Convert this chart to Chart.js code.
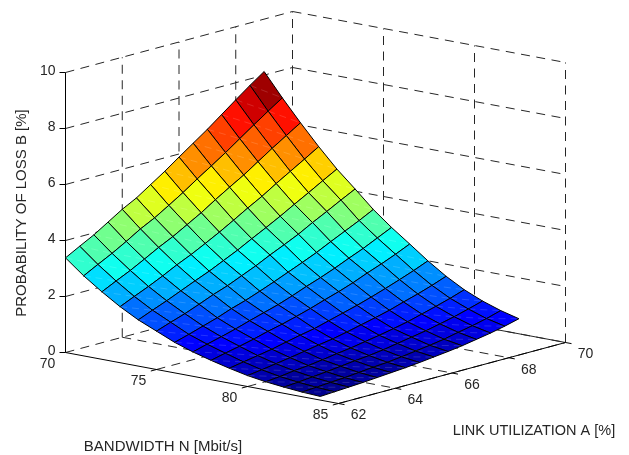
<!DOCTYPE html>
<html>
<head>
<meta charset="utf-8">
<title>Probability of loss</title>
<script src="https://cdn.jsdelivr.net/npm/chart.js@4/dist/chart.umd.js"></script>
<style>
  html, body { margin: 0; background: #fff; }
  canvas { display: block; }
</style>
</head>
<body>
<canvas id="container-chart" width="629" height="455"></canvas>
<script>
// surface values, one list per bandwidth
const bandwidth = [70, 71, 72, 73, 74, 75, 76, 77, 78, 79, 80, 81, 82, 83, 84];
const utilization = [62, 62.5, 63, 63.5, 64, 64.5, 65, 65.5, 66, 66.5, 67, 67.5, 68, 68.5, 69];

const loss70 = [3.38, 3.66, 3.93, 4.25, 4.57, 4.84, 5.18, 5.52, 5.89, 6.25, 6.61, 7.00, 7.39, 7.77, 8.13];
const loss71 = [2.86, 3.13, 3.39, 3.68, 3.99, 4.25, 4.56, 4.88, 5.23, 5.56, 5.90, 6.26, 6.62, 6.97, 7.31];
const loss72 = [2.41, 2.66, 2.90, 3.17, 3.45, 3.70, 3.99, 4.28, 4.61, 4.92, 5.22, 5.56, 5.90, 6.22, 6.54];
const loss73 = [2.00, 2.23, 2.45, 2.69, 2.95, 3.18, 3.44, 3.71, 4.00, 4.30, 4.58, 4.90, 5.20, 5.50, 5.81];
const loss74 = [1.65, 1.86, 2.06, 2.28, 2.50, 2.71, 2.95, 3.19, 3.46, 3.72, 3.99, 4.28, 4.56, 4.85, 5.13];
const loss75 = [1.37, 1.55, 1.72, 1.92, 2.13, 2.31, 2.53, 2.75, 3.00, 3.23, 3.47, 3.75, 4.01, 4.28, 4.54];
const loss76 = [1.09, 1.24, 1.40, 1.56, 1.75, 1.91, 2.10, 2.30, 2.51, 2.72, 2.94, 3.19, 3.43, 3.67, 3.93];
const loss77 = [0.87, 1.01, 1.14, 1.28, 1.44, 1.59, 1.74, 1.92, 2.12, 2.30, 2.50, 2.72, 2.93, 3.17, 3.41];
const loss78 = [0.69, 0.81, 0.92, 1.04, 1.18, 1.30, 1.44, 1.59, 1.76, 1.92, 2.10, 2.31, 2.50, 2.71, 2.94];
const loss79 = [0.53, 0.62, 0.71, 0.80, 0.92, 1.03, 1.13, 1.27, 1.41, 1.55, 1.71, 1.88, 2.06, 2.25, 2.46];
const loss80 = [0.39, 0.46, 0.54, 0.62, 0.71, 0.80, 0.88, 0.99, 1.11, 1.23, 1.36, 1.52, 1.67, 1.84, 2.03];
const loss81 = [0.29, 0.34, 0.41, 0.46, 0.53, 0.61, 0.68, 0.77, 0.86, 0.96, 1.07, 1.21, 1.35, 1.50, 1.67];
const loss82 = [0.22, 0.26, 0.31, 0.36, 0.42, 0.48, 0.53, 0.60, 0.69, 0.78, 0.87, 0.98, 1.10, 1.24, 1.39];
const loss83 = [0.165, 0.20, 0.24, 0.27, 0.32, 0.37, 0.41, 0.47, 0.54, 0.61, 0.69, 0.80, 0.90, 1.02, 1.17];
const loss84 = [0.13, 0.16, 0.19, 0.22, 0.26, 0.30, 0.34, 0.39, 0.45, 0.51, 0.58, 0.67, 0.76, 0.87, 1.00];
const lossRows = [loss70, loss71, loss72, loss73, loss74, loss75, loss76, loss77, loss78, loss79, loss80, loss81, loss82, loss83, loss84];

const bandwidthTicks = [70, 75, 80, 85];
const utilizationTicks = [62, 64, 66, 68, 70];
const lossTicks = [0, 2, 4, 6, 8, 10];

const lossMin = 0.13;
const lossMax = 8.13;

// fixed MATLAB-like view: data (N, A, B) goes to the x/y of the chart
function project(n, a, b) {
  const u = (n - 70) / 15;
  const v = (a - 62) / 8;
  return {
    x: 65.5 + 273 * u + 227 * v,
    y: 352.5 + 51 * u - 61 * v - 28 * b
  };
}

// 64 step jet colormap
function jet(value) {
  const level = Math.min(63, Math.floor((value - lossMin) / (lossMax - lossMin) * 64));
  const t = (level + 1) / 64;
  const ramp = (c) => Math.round(255 * Math.max(0, Math.min(1, 1.5 - Math.abs(4 * t - c))));
  return `rgb(${ramp(3)}, ${ramp(2)}, ${ramp(1)})`;
}

function line(points, color, extra) {
  return Object.assign({
    data: points,
    showLine: true,
    fill: false,
    tension: 0,
    pointRadius: 0,
    borderColor: color,
    borderWidth: 1
  }, extra);
}

const dash = { borderDash: [9, 6.5] };
const gridColor = '#262626';
const surface = [];
const walls = [];

// first dataset is painted last, so the front cells go first
for (let i = bandwidth.length - 2; i >= 0; i--) {
  for (let j = 0; j < utilization.length - 1; j++) {
    const n0 = bandwidth[i], n1 = bandwidth[i + 1];
    const a0 = utilization[j], a1 = utilization[j + 1];
    const left = project(n0, a0, lossRows[i][j]);
    const right = project(n1, a1, lossRows[i + 1][j + 1]);
    // the faint light seam across each facet
    surface.push(line([left, right], 'rgba(255, 255, 255, 0.14)', { borderDash: [7, 5] }));
    surface.push(line([
      left,
      project(n1, a0, lossRows[i + 1][j]),
      right,
      project(n0, a1, lossRows[i][j + 1]),
      left
    ], '#000', {
      fill: 'shape',
      backgroundColor: jet(lossRows[i][j]),
      borderJoinStyle: 'round',
      borderCapStyle: 'round'
    }));
  }
}

// grid on the two walls and the floor
lossTicks.forEach((b) => {
  walls.push(line([project(70, 62, b), project(70, 70, b)], gridColor, dash));
  walls.push(line([project(70, 70, b), project(85, 70, b)], gridColor, b === 0 ? {} : dash));
  walls.push(line([project(70, 62, b), { x: project(70, 62, b).x - 6, y: project(70, 62, b).y }], '#000'));
});
bandwidthTicks.slice(1).forEach((n) => {
  walls.push(line([project(n, 70, 0), project(n, 70, 10)], gridColor, dash));
  walls.push(line([project(n, 62, 0), project(n, 70, 0)], gridColor, dash));
  walls.push(line([project(n, 62, 0), project(n, 61.8, 0)], '#000'));
});
utilizationTicks.slice(1).forEach((a) => {
  walls.push(line([project(70, a, 0), project(70, a, 10)], gridColor, dash));
  walls.push(line([project(70, a, 0), project(85, a, 0)], gridColor, dash));
});
utilizationTicks.forEach((a) => {
  walls.push(line([project(85, a, 0), project(85.33, a, 0)], '#000'));
});

// solid axes
const axes = [
  line([project(70, 62, 0), project(70, 62, 10)], '#000'),
  line([project(70, 62, 0), project(85, 62, 0)], '#000'),
  line([project(85, 62, 0), project(85, 70, 0)], '#000')
];

// tick labels and axis titles, placed from the same projection
const labelsPlugin = {
  id: 'labels3d',
  afterDraw(chart) {
    const { ctx, scales } = chart;
    const place = (p) => ({ x: scales.x.getPixelForValue(p.x), y: scales.y.getPixelForValue(p.y) });
    ctx.save();
    ctx.fillStyle = '#262626';
    ctx.textBaseline = 'middle';
    ctx.font = '14px "Liberation Sans"';
    ctx.textAlign = 'right';
    lossTicks.forEach((b) => {
      const p = place(project(70, 62, b));
      ctx.fillText(String(b), p.x - 10, p.y - 1);
    });
    ctx.textAlign = 'center';
    bandwidthTicks.forEach((n) => {
      const p = place(project(n, 62, 0));
      ctx.fillText(String(n), p.x - 18, p.y + 12);
    });
    utilizationTicks.forEach((a) => {
      const p = place(project(85, a, 0));
      ctx.fillText(String(a), p.x + 20, p.y + 12);
    });
    ctx.font = '15px "Liberation Sans"';
    ctx.fillText('BANDWIDTH N [Mbit/s]', 163, 447);
    ctx.font = '14.5px "Liberation Sans"';
    ctx.fillText('LINK UTILIZATION A [%]', 534, 431);
    ctx.font = '15px "Liberation Sans"';
    ctx.translate(22, 213);
    ctx.rotate(-Math.PI / 2);
    ctx.fillText('PROBABILITY OF LOSS B [%]', 0, 0);
    ctx.restore();
  }
};

const configChart = {
  type: 'scatter',
  data: { datasets: [...surface, ...axes, ...walls] },
  options: {
    responsive: false,
    animation: false,
    events: [],
    layout: { padding: 0 },
    plugins: { legend: { display: false }, tooltip: { enabled: false } },
    scales: {
      x: { type: 'linear', display: false, min: 0, max: 629 },
      y: { type: 'linear', display: false, min: 0, max: 455, reverse: true }
    }
  },
  plugins: [labelsPlugin]
};

const ctx = document.querySelector('#container-chart').getContext('2d');
const myChart = new Chart(ctx, configChart);
</script>
</body>
</html>
